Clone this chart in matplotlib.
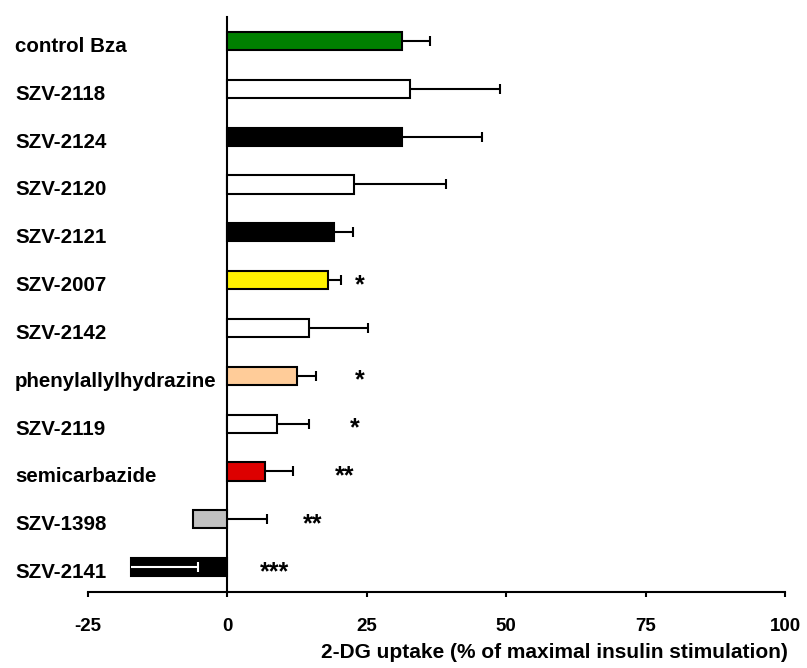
import matplotlib
matplotlib.use("Agg")
import matplotlib.pyplot as plt
from matplotlib import font_manager
import matplotlib.transforms as mtransforms

# data
compounds = ["control Bza", "SZV-2118", "SZV-2124", "SZV-2120", "SZV-2121",
             "SZV-2007", "SZV-2142", "phenylallylhydrazine", "SZV-2119",
             "semicarbazide", "SZV-1398", "SZV-2141"]
uptake = [31.3, 32.8, 31.3, 22.7, 19.2, 18.0, 14.6, 12.5, 8.9, 6.7, -6.2, -17.3]
sem = [5.0, 16.1, 14.3, 16.5, 3.3, 2.4, 10.7, 3.4, 5.8, 5.0, 13.3, 12.1]
fills = ["#008000", "white", "black", "white", "black", "#FFF200",
         "white", "#FFCC99", "white", "#DD0000", "#C0C0C0", "black"]
stars = ["", "", "", "", "", "*", "", "*", "*", "**", "**", "***"]
star_x = [0, 0, 0, 0, 0, 23.8, 0, 23.7, 22.9, 21.0, 15.2, 8.4]
xticks = [-25, 0, 25, 50, 75, 100]

names = {f.name for f in font_manager.fontManager.ttflist}
lab_font = "Liberation Sans" if "Liberation Sans" in names else "DejaVu Sans"
tick_font = "Liberation Sans Narrow" if "Liberation Sans Narrow" in names else lab_font
narrow = tick_font != lab_font

fig = plt.figure(figsize=(8.07, 6.68), dpi=100)
ax = fig.add_axes([88 / 807, 1 - 592 / 668, (785 - 88) / 807, (592 - 17) / 668])

ypos = list(range(len(compounds)))
ax.barh(ypos, uptake, height=0.38, color=fills, edgecolor="black",
        linewidth=1.5, zorder=3)

for i in ypos:
    col = "white" if (uptake[i] < 0 and fills[i] == "black") else "black"
    z = 4 if col == "white" or uptake[i] >= 0 else 2
    eb = ax.errorbar(uptake[i], i, xerr=[[0], [sem[i]]], fmt="none", ecolor=col,
                     elinewidth=1.5, capsize=3.6, capthick=1.5, zorder=z)
    eb[1][0].set_visible(False)  # no cap at the bar end
    if stars[i]:
        ax.text(star_x[i], i + 0.1, stars[i], ha="center", va="center",
                fontsize=18, fontweight="bold", family=lab_font)

trans = mtransforms.blended_transform_factory(fig.transFigure, ax.transData)
for i, name in enumerate(compounds):
    ax.text(15 / 807, i + 0.23, name, transform=trans, ha="left", va="baseline",
            fontsize=14.8, fontweight="bold", family=lab_font)

ax.set_xlim(-25, 100)
ax.set_ylim(11.52, -0.5)
ax.set_xticks(xticks)
ax.set_xticklabels([str(v) for v in xticks])
ax.set_yticks([])
ax.spines["top"].set_visible(False)
ax.spines["right"].set_visible(False)
ax.spines["left"].set_position(("data", 0))
for s in ("left", "bottom"):
    ax.spines[s].set_linewidth(1.5)
ax.tick_params(axis="x", direction="out", length=3.5, width=1.5, pad=15)
for t in ax.get_xticklabels():
    t.set_fontfamily(tick_font)
    t.set_fontweight("bold")
    t.set_fontsize(15 if narrow else 13.5)

fig.text(788 / 807, 1 - 658 / 668, "2-DG uptake (% of maximal insulin stimulation)",
         ha="right", va="baseline", fontsize=17 if narrow else 15,
         fontweight="bold", family=tick_font)

fig.savefig("out.png", dpi=100)
